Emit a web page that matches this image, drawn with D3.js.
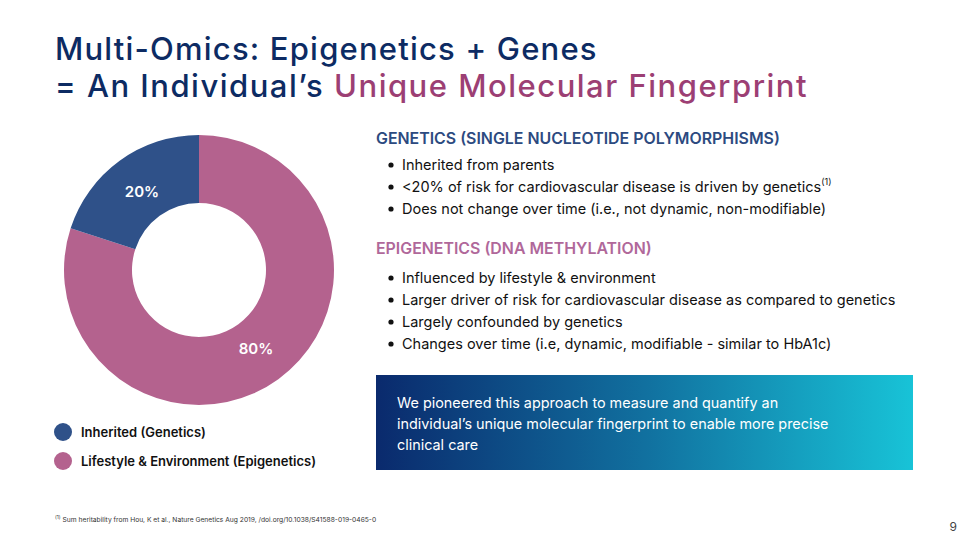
<!DOCTYPE html>
<html>
<head>
<meta charset="utf-8">
<script src="https://cdn.jsdelivr.net/npm/d3@7"></script>
<style>
  body { margin: 0; background: #fff; }
  svg { display: block; font-family: Inter, "Noto Sans", sans-serif; }
</style>
</head>
<body>
<div id="chart"></div>
<script>
// Donut data
const segments = ['Lifestyle & Environment (Epigenetics)', 'Inherited (Genetics)'];
const shares = [80, 20];
const segmentColors = ['#b4628e', '#2f5189'];

// Legend (top to bottom)
const legendItems = ['Inherited (Genetics)', 'Lifestyle & Environment (Epigenetics)'];
const legendColors = ['#2f5189', '#b4628e'];

// Right side texts
const geneticsHeading = 'GENETICS (SINGLE NUCLEOTIDE POLYMORPHISMS)';
const geneticsBullets = [
    'Inherited from parents',
    '<20% of risk for cardiovascular disease is driven by genetics',
    'Does not change over time (i.e., not dynamic, non-modifiable)'
];
const epigeneticsHeading = 'EPIGENETICS (DNA METHYLATION)';
const epigeneticsBullets = [
    'Influenced by lifestyle & environment',
    'Larger driver of risk for cardiovascular disease as compared to genetics',
    'Largely confounded by genetics',
    'Changes over time (i.e, dynamic, modifiable - similar to HbA1c)'
];
const calloutLines = [
    'We pioneered this approach to measure and quantify an',
    'individual\u2019s unique molecular fingerprint to enable more precise',
    'clinical care'
];

function drawSlide() {
    const width = 970;
    const height = 546;

    const svg = d3.select('#chart')
        .append('svg')
        .attr('width', width)
        .attr('height', height);

    const navy = '#0d2b63';
    const plum = '#9c3f74';

    // Title (two lines, slightly tracked out to match the slide font width)
    svg.append('text')
        .attr('x', 55).attr('y', 60)
        .attr('font-size', 31)
        .attr('font-weight', 500)
        .attr('letter-spacing', 1.2)
        .attr('fill', navy)
        .text('Multi-Omics: Epigenetics + Genes');

    const t2 = svg.append('text')
        .attr('x', 55).attr('y', 97)
        .attr('font-size', 31)
        .attr('font-weight', 500)
        .attr('letter-spacing', 1.5)
        .attr('fill', navy);
    t2.append('tspan').text('= An Individual\u2019s ');
    t2.append('tspan').attr('fill', plum).text('Unique Molecular Fingerprint');

    // Donut
    const cx = 199, cy = 270;
    const outerR = 135, innerR = 67;

    const pie = d3.pie().sort(null).value(d => d);
    const arc = d3.arc().innerRadius(innerR).outerRadius(outerR);
    const labelArc = d3.arc().innerRadius(97).outerRadius(97);

    const g = svg.append('g').attr('transform', `translate(${cx},${cy})`);
    const arcs = pie(shares);

    g.selectAll('path')
        .data(arcs)
        .join('path')
        .attr('d', arc)
        .attr('fill', (d, i) => segmentColors[i]);

    g.selectAll('text')
        .data(arcs)
        .join('text')
        .attr('transform', d => `translate(${labelArc.centroid(d)})`)
        .attr('text-anchor', 'middle')
        .attr('dominant-baseline', 'central')
        .attr('font-size', 15)
        .attr('font-weight', 600)
        .attr('fill', '#fff')
        .text(d => d.data + '%');

    // Legend
    const legend = svg.append('g');
    legendItems.forEach((name, i) => {
        const y = 432 + i * 29;
        legend.append('circle')
            .attr('cx', 63).attr('cy', y).attr('r', 9)
            .attr('fill', legendColors[i]);
        legend.append('text')
            .attr('x', 81).attr('y', y + 5)
            .attr('font-size', 13)
            .attr('font-weight', 600)
            .attr('fill', '#111')
            .text(name);
    });

    // Section helper
    function section(heading, color, headY, bullets, bulletY) {
        svg.append('text')
            .attr('x', 376).attr('y', headY)
            .attr('font-size', 15.9)
            .attr('font-weight', 600)
            .attr('fill', color)
            .text(heading);
        bullets.forEach((b, i) => {
            const y = bulletY + i * 22;
            svg.append('circle')
                .attr('cx', 391).attr('cy', y - 5).attr('r', 2.6)
                .attr('fill', '#111');
            svg.append('text')
                .attr('x', 402).attr('y', y)
                .attr('font-size', 14.5)
                .attr('fill', '#111')
                .text(b);
        });
    }

    section(geneticsHeading, '#2c4a80', 144, geneticsBullets, 170);
    section(epigeneticsHeading, '#b0689a', 254, epigeneticsBullets, 283);

    // Superscript for footnote ref on 2nd genetics bullet
    const refLine = svg.selectAll('text').filter(function() {
        return d3.select(this).text() === geneticsBullets[1];
    });
    refLine.append('tspan')
        .attr('font-size', 9)
        .attr('dy', -7)
        .text('(1)');

    // Callout box
    const defs = svg.append('defs');
    const grad = defs.append('linearGradient').attr('id', 'callout');
    grad.append('stop').attr('offset', '0%').attr('stop-color', '#0a2a6d');
    grad.append('stop').attr('offset', '50%').attr('stop-color', '#11709f');
    grad.append('stop').attr('offset', '100%').attr('stop-color', '#18c3d7');

    svg.append('rect')
        .attr('x', 376).attr('y', 375)
        .attr('width', 537).attr('height', 95)
        .attr('fill', 'url(#callout)');

    calloutLines.forEach((line, i) => {
        svg.append('text')
            .attr('x', 397).attr('y', 408 + i * 21)
            .attr('font-size', 14.4)
            .attr('fill', '#fff')
            .text(line);
    });

    // Footnote
    const fn = svg.append('text')
        .attr('x', 55).attr('y', 522)
        .attr('font-size', 6.7)
        .attr('fill', '#333');
    fn.append('tspan').attr('font-size', 5).attr('dy', -3).text('(1)');
    fn.append('tspan').attr('dy', 3).text(' Sum heritability from Hou, K et al., Nature Genetics Aug 2019, /doi.org/10.1038/S41588-019-0465-0');

    // Page number
    svg.append('text')
        .attr('x', 957).attr('y', 531)
        .attr('text-anchor', 'end')
        .attr('font-size', 12)
        .attr('fill', '#444')
        .text('9');
}

drawSlide();
</script>
</body>
</html>
